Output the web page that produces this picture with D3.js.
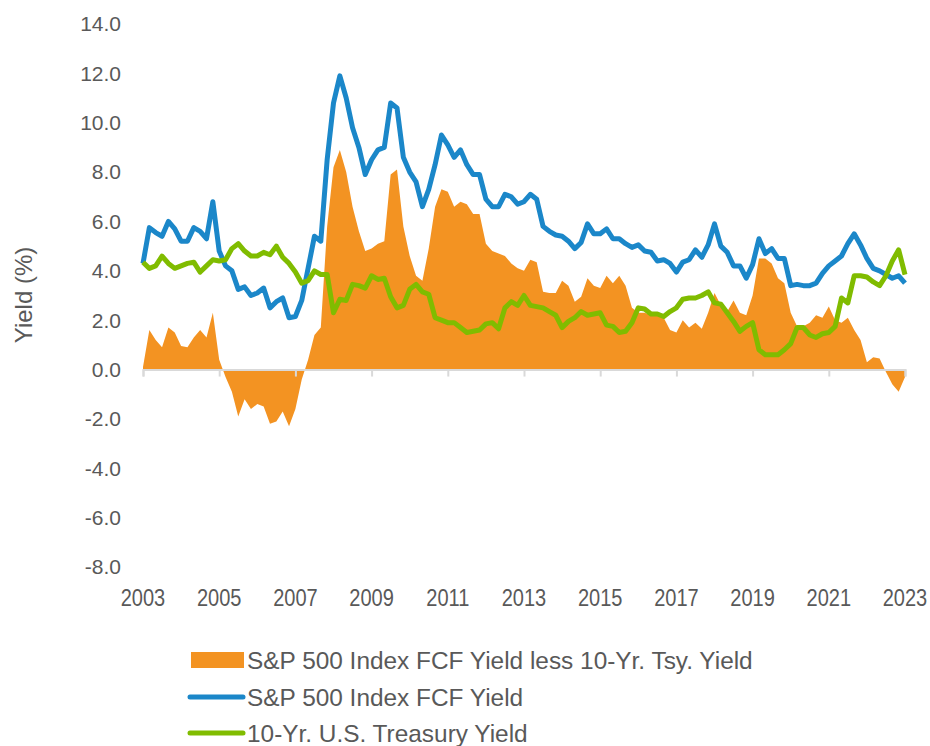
<!DOCTYPE html>
<html>
<head>
<meta charset="utf-8">
<script src="https://cdn.jsdelivr.net/npm/d3@7"></script>
<style>
  body { margin: 0; background: #fff; }
  text { font-family: Arial, "Liberation Sans", sans-serif; fill: #595959; }
</style>
</head>
<body>
<div id="chart"></div>
<script>
// bimonthly observations, Jan 2003 .. Jan 2023
const months = [
  "2003-01","2003-03","2003-05","2003-07","2003-09","2003-11",
  "2004-01","2004-03","2004-05","2004-07","2004-09","2004-11",
  "2005-01","2005-03","2005-05","2005-07","2005-09","2005-11",
  "2006-01","2006-03","2006-05","2006-07","2006-09","2006-11",
  "2007-01","2007-03","2007-05","2007-07","2007-09","2007-11",
  "2008-01","2008-03","2008-05","2008-07","2008-09","2008-11",
  "2009-01","2009-03","2009-05","2009-07","2009-09","2009-11",
  "2010-01","2010-03","2010-05","2010-07","2010-09","2010-11",
  "2011-01","2011-03","2011-05","2011-07","2011-09","2011-11",
  "2012-01","2012-03","2012-05","2012-07","2012-09","2012-11",
  "2013-01","2013-03","2013-05","2013-07","2013-09","2013-11",
  "2014-01","2014-03","2014-05","2014-07","2014-09","2014-11",
  "2015-01","2015-03","2015-05","2015-07","2015-09","2015-11",
  "2016-01","2016-03","2016-05","2016-07","2016-09","2016-11",
  "2017-01","2017-03","2017-05","2017-07","2017-09","2017-11",
  "2018-01","2018-03","2018-05","2018-07","2018-09","2018-11",
  "2019-01","2019-03","2019-05","2019-07","2019-09","2019-11",
  "2020-01","2020-03","2020-05","2020-07","2020-09","2020-11",
  "2021-01","2021-03","2021-05","2021-07","2021-09","2021-11",
  "2022-01","2022-03","2022-05","2022-07","2022-09","2022-11",
  "2023-01"
];

const fcfYield = [
  4.3, 5.75, 5.55, 5.4, 6.0, 5.7,
  5.2, 5.2, 5.75, 5.6, 5.3, 6.8,
  4.8, 4.2, 4.0, 3.25, 3.35, 3.0,
  3.1, 3.3, 2.5, 2.75, 2.9, 2.1,
  2.15, 2.8, 4.1, 5.4, 5.2, 8.5,
  10.8, 11.9, 11.0, 9.8, 9.0, 7.9,
  8.5, 8.9, 9.0, 10.8, 10.6, 8.6,
  8.0, 7.6, 6.6, 7.3, 8.3, 9.5,
  9.1, 8.6, 8.9, 8.3, 7.9, 7.9,
  6.9, 6.6, 6.6, 7.1, 7.0, 6.7,
  6.8, 7.1, 6.9, 5.8, 5.6, 5.45,
  5.4, 5.2, 4.9, 5.15, 5.9, 5.5,
  5.5, 5.7, 5.3, 5.3, 5.1, 4.95,
  5.05, 4.8, 4.75, 4.4, 4.45, 4.3,
  3.95, 4.35, 4.45, 4.85, 4.55, 5.05,
  5.9, 5.0, 4.75, 4.2, 4.2, 3.7,
  4.25, 5.3, 4.7, 4.9, 4.5, 4.5,
  3.4, 3.45, 3.4, 3.4, 3.5, 3.9,
  4.2, 4.4, 4.6, 5.1, 5.5, 5.05,
  4.5, 4.1, 4.0, 3.85, 3.7, 3.8,
  3.5
];

const tsyYield = [
  4.35, 4.1, 4.2, 4.6, 4.3, 4.1,
  4.2, 4.3, 4.35, 3.95, 4.2, 4.45,
  4.4, 4.45, 4.9, 5.1, 4.8, 4.6,
  4.6, 4.75, 4.65, 5.0, 4.55, 4.3,
  3.95, 3.5, 3.6, 4.0, 3.85, 3.85,
  2.3, 2.85, 2.8, 3.45, 3.4, 3.3,
  3.8, 3.65, 3.7, 2.95, 2.5, 2.6,
  3.25, 3.45, 3.15, 3.05, 2.1, 2.0,
  1.9, 1.9, 1.7, 1.5, 1.55, 1.6,
  1.85, 1.9, 1.65, 2.5, 2.75, 2.6,
  3.0, 2.6, 2.55, 2.5, 2.35, 2.2,
  1.7, 1.95, 2.1, 2.35, 2.2, 2.25,
  2.3, 1.8, 1.75, 1.5, 1.55, 1.9,
  2.5, 2.45, 2.25, 2.25, 2.15, 2.35,
  2.5, 2.85, 2.9, 2.9, 3.0, 3.15,
  2.7, 2.65, 2.3, 1.95, 1.55, 1.75,
  1.9, 0.8, 0.6, 0.6, 0.6, 0.8,
  1.05, 1.7, 1.7, 1.4, 1.3, 1.45,
  1.5, 1.75, 2.9, 2.7, 3.8, 3.8,
  3.75, 3.55, 3.4, 3.8, 4.4, 4.85,
  3.85
];

const spread = [
  0.1, 1.6, 1.2, 0.9, 1.7, 1.5,
  0.95, 0.9, 1.3, 1.6, 1.3, 2.3,
  0.4, -0.3, -0.9, -1.9, -1.2, -1.6,
  -1.4, -1.5, -2.2, -2.1, -1.7, -2.3,
  -1.6, -0.4, 0.4, 1.4, 1.7, 5.8,
  8.2, 8.9, 8.0, 6.6, 5.6, 4.8,
  4.9, 5.1, 5.2, 7.9, 8.1, 5.8,
  4.6, 3.8, 3.6, 4.9, 6.6, 7.3,
  7.2, 6.6, 6.8, 6.7, 6.3, 6.3,
  5.1, 4.8, 4.7, 4.6, 4.3, 4.1,
  4.0, 4.45, 4.35, 3.15, 3.1, 3.1,
  3.6, 3.4, 2.75, 2.95, 3.7, 3.4,
  3.3, 3.8, 3.5, 3.8, 3.4, 2.5,
  2.3, 2.3, 2.2, 2.2, 2.1, 1.6,
  1.5, 2.0, 1.7, 1.9, 1.65, 2.3,
  3.1, 2.6, 2.35, 2.8, 2.3, 2.2,
  3.0, 4.5, 4.5, 4.3, 3.7, 3.5,
  2.3, 1.75, 1.75, 1.9, 2.2, 2.1,
  2.55, 2.0, 1.9, 2.1, 1.6, 1.2,
  0.3, 0.5, 0.45, -0.1, -0.6, -0.9,
  -0.3
];

const yearTicks = [2003, 2005, 2007, 2009, 2011, 2013, 2015, 2017, 2019, 2021, 2023];
const yTicks = [-8, -6, -4, -2, 0, 2, 4, 6, 8, 10, 12, 14];

const legendLabels = [
  "S&P 500 Index FCF Yield less 10-Yr. Tsy. Yield",
  "S&P 500 Index FCF Yield",
  "10-Yr. U.S. Treasury Yield"
];

const orange = "#f39322", blue = "#1b87c9", green = "#80bc00";

const width = 930, height = 746;
const margin = {left: 143, right: 25, top: 24, bottom: 179};

const svg = d3.select("#chart").append("svg")
  .attr("width", width)
  .attr("height", height);

const toYear = s => {
  const [y, m] = s.split("-").map(Number);
  return y + (m - 1) / 12;
};

const data = months.map((m, i) => ({
  t: toYear(m), fcf: fcfYield[i], tsy: tsyYield[i], diff: spread[i]
}));

const x = d3.scaleLinear().domain([2003, 2023]).range([margin.left, width - margin.right]);
const y = d3.scaleLinear().domain([-8, 14]).range([height - margin.bottom, margin.top]);

// spread area
svg.append("path")
  .datum(data)
  .attr("fill", orange)
  .attr("d", d3.area().x(d => x(d.t)).y0(y(0)).y1(d => y(d.diff)));

// x axis along zero
const xAxis = svg.append("g")
  .attr("transform", `translate(0,${y(0)})`)
  .call(d3.axisBottom(x).tickValues(yearTicks).tickSize(7).tickFormat(""));
xAxis.select(".domain").attr("stroke", "#d9d9d9").attr("stroke-width", 2);
xAxis.selectAll(".tick line").attr("stroke", "#d9d9d9").attr("stroke-width", 2);

// x labels at bottom (slightly narrow, like the original)
svg.append("g")
  .selectAll("text")
  .data(yearTicks)
  .join("text")
  .attr("transform", d => `translate(${x(d)},606) scale(0.87,1)`)
  .attr("text-anchor", "middle")
  .attr("font-size", 23)
  .text(d => d);

// y labels
svg.append("g")
  .selectAll("text")
  .data(yTicks)
  .join("text")
  .attr("x", 121)
  .attr("y", d => y(d))
  .attr("dy", "0.35em")
  .attr("text-anchor", "end")
  .attr("font-size", 21)
  .text(d => d.toFixed(1));

svg.append("text")
  .attr("transform", "translate(32,295) rotate(-90)")
  .attr("text-anchor", "middle")
  .attr("font-size", 24)
  .text("Yield (%)");

const line = key => d3.line().x(d => x(d.t)).y(d => y(d[key]));

svg.append("path")
  .datum(data)
  .attr("fill", "none")
  .attr("stroke", blue)
  .attr("stroke-width", 5)
  .attr("stroke-linejoin", "round")
  .attr("d", line("fcf"));

svg.append("path")
  .datum(data)
  .attr("fill", "none")
  .attr("stroke", green)
  .attr("stroke-width", 5)
  .attr("stroke-linejoin", "round")
  .attr("d", line("tsy"));

// legend
const legend = svg.append("g");
const rowY = [660, 697, 733];

legend.append("rect")
  .attr("x", 191).attr("y", rowY[0] - 8)
  .attr("width", 53).attr("height", 16)
  .attr("fill", orange);

[blue, green].forEach((c, i) => {
  legend.append("line")
    .attr("x1", 190).attr("x2", 243)
    .attr("y1", rowY[i + 1]).attr("y2", rowY[i + 1])
    .attr("stroke", c)
    .attr("stroke-width", 5)
    .attr("stroke-linecap", "round");
});

legend.selectAll("text")
  .data(legendLabels)
  .join("text")
  .attr("x", 247)
  .attr("y", (d, i) => rowY[i])
  .attr("dy", "0.35em")
  .attr("font-size", 24.4)
  .text(d => d);
</script>
</body>
</html>
